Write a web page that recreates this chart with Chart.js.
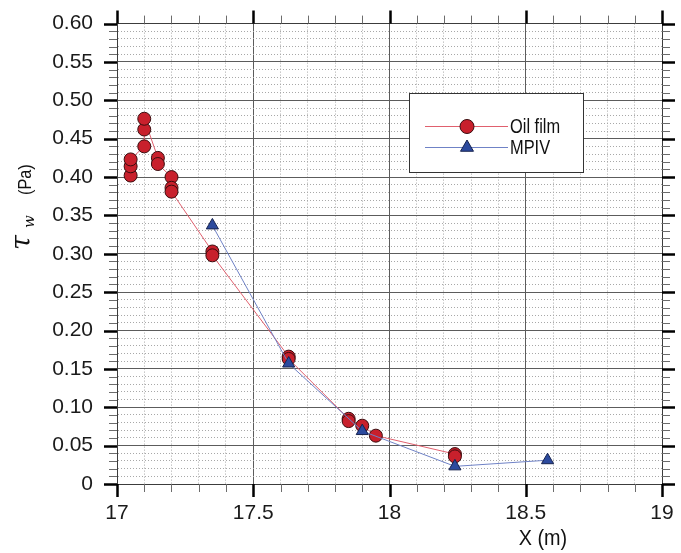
<!DOCTYPE html>
<html>
<head>
<meta charset="utf-8">
<script src="https://cdn.jsdelivr.net/npm/chart.js@4.4.1/dist/chart.umd.min.js"></script>
<style>
  html, body { margin: 0; padding: 0; background: #fff; }
  #wrap { width: 681px; height: 553px; }
</style>
</head>
<body>
<div id="wrap"><canvas id="chart-1" width="681" height="553"></canvas></div>
<script>
// wall shear stress
const seriesNames = ['Oil film', 'MPIV'];

// oil film: stations (m) and tau_w (Pa), in the order the line runs
const oilX   = [17.05, 17.05, 17.05, 17.10, 17.10, 17.10, 17.15, 17.15, 17.20, 17.20, 17.20,
                17.35, 17.35, 17.63, 17.63, 17.85, 17.85, 17.90, 17.95, 18.24, 18.24];
const oilTau = [0.402, 0.414, 0.423, 0.440, 0.462, 0.476, 0.425, 0.417, 0.400, 0.386, 0.381,
                0.303, 0.298, 0.166, 0.163, 0.085, 0.082, 0.076, 0.063, 0.039, 0.036];

// MPIV
const mpivX   = [17.35, 17.63, 17.90, 18.24, 18.58];
const mpivTau = [0.337, 0.157, 0.069, 0.023, 0.031];

// axes
const xRange = [17, 19];
const yRange = [0, 0.6];
const xStep = 0.1, xLabelStep = 0.5;
const yStep = 0.01, yLabelStep = 0.05;

const FONT = '"Liberation Sans Narrow", "Arial Narrow", "Liberation Sans", Arial, sans-serif';

const onStep = (v, step) => Math.abs(v / step - Math.round(v / step)) < 1e-6;
const xMajor = v => onStep(v, xLabelStep);
const yMajor = v => onStep(v, yLabelStep);

// grid lines; tick room is reserved here but the marks are drawn by the plugin
function gridOpts(major, onArea) {
  const isMaj = c => c.tick ? major(c.tick.value) : true;
  return {
    drawOnChartArea: onArea,
    color: c => isMaj(c) ? '#5c5c5c' : '#a8a8a8',
    lineWidth: 1,
    tickLength: 13,
    tickWidth: 0,
  };
}
function borderOpts(major) {
  return {
    color: '#3c3c3c',
    width: 1,
    dash: c => (c.tick && !major(c.tick.value)) ? [1, 2] : [],
  };
}

const toPoints = (xs, ys) => xs.map((x, i) => ({ x: x, y: ys[i] }));

// squeeze text a little, the original uses a condensed face
function narrowText(ctx, text, x, y, ratio) {
  ctx.fillText(text, x, y, ctx.measureText(text).width * ratio);
}

function strokeTicks(ctx, list, color, width) {
  ctx.strokeStyle = color;
  ctx.lineWidth = width;
  ctx.beginPath();
  list.forEach(s => { ctx.moveTo(s[0], s[1]); ctx.lineTo(s[2], s[3]); });
  ctx.stroke();
}

const decorations = {
  id: 'decorations',
  afterDraw(chart) {
    const ctx = chart.ctx;
    const area = chart.chartArea;
    const sx = chart.scales.x, sy = chart.scales.y;

    // outward ticks on all four sides: long black majors, short grey minors
    const majors = [], minors = [];
    sx.ticks.forEach(t => {
      const px = Math.round(sx.getPixelForValue(t.value)) + 0.5;
      const len = xMajor(t.value) ? 13 : 8;
      const bucket = xMajor(t.value) ? majors : minors;
      bucket.push([px, area.bottom, px, area.bottom + len]);
      bucket.push([px, area.top, px, area.top - len]);
    });
    sy.ticks.forEach(t => {
      const py = Math.round(sy.getPixelForValue(t.value)) + 0.5;
      const len = yMajor(t.value) ? 13 : 8;
      const bucket = yMajor(t.value) ? majors : minors;
      bucket.push([area.left, py, area.left - len, py]);
      bucket.push([area.right, py, area.right + len, py]);
    });
    ctx.save();
    strokeTicks(ctx, minors, '#6c6c6c', 1);
    strokeTicks(ctx, majors, '#000', 2.5);
    ctx.restore();

    // y title, rotated
    ctx.save();
    ctx.translate(30, 250);
    ctx.rotate(-Math.PI / 2);
    ctx.fillStyle = '#111';
    ctx.textBaseline = 'alphabetic';
    ctx.font = 'italic 27px "DejaVu Serif", "Liberation Serif", serif';
    ctx.fillText('τ', 0, 0);
    ctx.font = 'italic 15px "DejaVu Serif", "Liberation Serif", serif';
    ctx.fillText('w', 22, 4);
    ctx.font = '19px ' + FONT;
    narrowText(ctx, '(Pa)', 55, 1, 0.85);
    ctx.restore();

    // x title
    ctx.save();
    ctx.fillStyle = '#111';
    ctx.font = '22px ' + FONT;
    ctx.textAlign = 'center';
    ctx.textBaseline = 'middle';
    narrowText(ctx, 'X (m)', 543, 539, 0.9);
    ctx.restore();

    // legend box
    ctx.save();
    ctx.fillStyle = '#fff';
    ctx.fillRect(409.5, 93.5, 174, 79);
    ctx.strokeStyle = '#333';
    ctx.lineWidth = 1;
    ctx.strokeRect(409.5, 93.5, 174, 79);
    chart.data.datasets.forEach((ds, i) => {
      const y = 126.5 + i * 21;
      ctx.strokeStyle = ds.borderColor;
      ctx.lineWidth = 1;
      ctx.beginPath();
      ctx.moveTo(425, y);
      ctx.lineTo(508, y);
      ctx.stroke();
      ctx.fillStyle = ds.pointBackgroundColor;
      ctx.strokeStyle = ds.pointBorderColor;
      ctx.lineWidth = ds.pointBorderWidth;
      Chart.helpers.drawPoint(ctx, {
        pointStyle: ds.pointStyle, radius: ds.pointRadius + 0.5,
        rotation: 0, borderWidth: ds.pointBorderWidth
      }, 467, y);
      ctx.fillStyle = '#111';
      ctx.font = '20px ' + FONT;
      ctx.textBaseline = 'middle';
      narrowText(ctx, ds.label, 510, y + 1, 0.82);
    });
    ctx.restore();
  }
};

const chart = new Chart(document.getElementById('chart-1'), {
  type: 'scatter',
  data: {
    datasets: [{
      label: seriesNames[0],
      data: toPoints(oilX, oilTau),
      showLine: true,
      order: 2,
      borderColor: '#e0606e',
      borderWidth: 1,
      pointStyle: 'circle',
      pointRadius: 6.5,
      pointBackgroundColor: '#c8202c',
      pointBorderColor: '#3a0c0e',
      pointBorderWidth: 1,
    }, {
      label: seriesNames[1],
      data: toPoints(mpivX, mpivTau),
      showLine: true,
      order: 1,
      borderColor: '#6f82c6',
      borderWidth: 1,
      pointStyle: 'triangle',
      pointRadius: 7,
      pointBackgroundColor: '#2c4a9e',
      pointBorderColor: '#16224e',
      pointBorderWidth: 1,
    }]
  },
  options: {
    responsive: false,
    animation: false,
    layout: { padding: { left: 0, right: 6, top: 6, bottom: 0 } },
    plugins: {
      legend: { display: false },
      tooltip: { enabled: false },
    },
    scales: {
      x: {
        type: 'linear',
        position: 'bottom',
        min: xRange[0], max: xRange[1],
        afterFit: s => { s.height = 69; },
        ticks: {
          stepSize: xStep,
          autoSkip: false,
          maxRotation: 0, minRotation: 0,
          padding: 4,
          color: '#1a1a1a',
          font: { family: FONT, size: 21 },
          callback: v => xMajor(v) ? String(Math.round(v * 10) / 10) : '',
        },
        grid: gridOpts(xMajor, true),
        border: borderOpts(xMajor),
      },
      y: {
        type: 'linear',
        position: 'left',
        min: yRange[0], max: yRange[1],
        afterFit: s => { s.width = 117; },
        ticks: {
          stepSize: yStep,
          autoSkip: false,
          padding: 11,
          color: '#1a1a1a',
          font: { family: FONT, size: 21 },
          callback: v => yMajor(v) ? (Math.abs(v) < 1e-9 ? '0' : v.toFixed(2)) : '',
        },
        grid: gridOpts(yMajor, true),
        border: borderOpts(yMajor),
      },
      x2: {
        type: 'linear',
        position: 'top',
        min: xRange[0], max: xRange[1],
        ticks: { stepSize: xStep, autoSkip: false, display: false },
        grid: gridOpts(xMajor, false),
        border: { color: '#3c3c3c', width: 1 },
      },
      y2: {
        type: 'linear',
        position: 'right',
        min: yRange[0], max: yRange[1],
        ticks: { stepSize: yStep, autoSkip: false, display: false },
        grid: gridOpts(yMajor, false),
        border: { color: '#3c3c3c', width: 1 },
      },
    }
  },
  plugins: [decorations]
});
</script>
</body>
</html>
